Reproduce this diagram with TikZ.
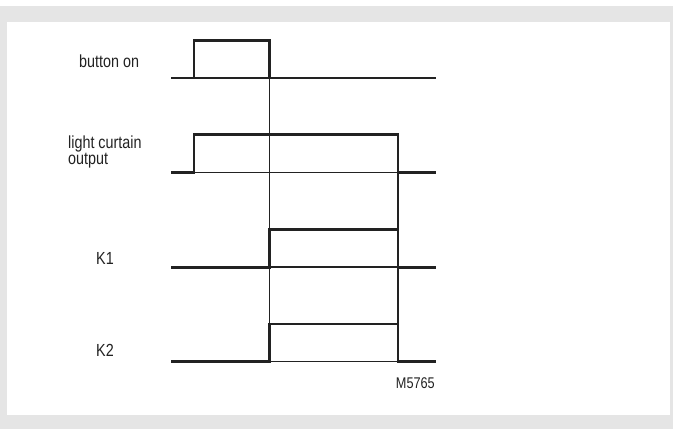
\documentclass[tikz,border=0pt]{standalone}
\usepackage{fontspec}
\setmainfont{Liberation Sans}[FakeStretch=0.82]
\definecolor{framegrey}{HTML}{E5E5E5}
\definecolor{ink}{HTML}{222222}
\begin{document}
\begin{tikzpicture}[x=1pt,y=-1pt,
  wave/.style={line width=2.8pt, draw=ink, line join=miter},
  guide/.style={line width=1.1pt, draw=ink},
  lbl/.style={font=\fontsize{17.5}{17}\selectfont, text=ink, inner sep=0pt},
  code/.style={font=\fontsize{15.5}{16}\selectfont, text=ink, inner sep=0pt}]
\useasboundingbox (0,0) rectangle (673,429);
\fill[white] (0,0) rectangle (673,429);
\fill[framegrey] (0,6) rectangle (673,429);
\fill[white] (7,22) rectangle (670,415);
% guide lines (thin)
\coordinate (t1top) at (269.3,40.7);
\coordinate (t1bot) at (269.3,361.7);
\coordinate (t2top) at (398,134.7);
\coordinate (t2bot) at (398,361.7);
\draw[guide] (t1top) -- (t1bot);
\draw[guide] (t2top) -- (t2bot);
\draw[guide] (194,78) -- (269.3,78);
\draw[guide] (194,172.3) -- (398,172.3);
\draw[guide] (269.3,267) -- (398,267);
\draw[guide] (269.3,361.7) -- (398,361.7);
% waveforms (thick)
\draw[wave] (171,78) -- (194,78) -- (194,40.7) -- (269.3,40.7) -- (269.3,78) -- (436,78);
\draw[wave] (171,172.3) -- (194,172.3) -- (194,134.7) -- (398,134.7) -- (398,172.3) -- (436,172.3);
\draw[wave] (171,267.5) -- (269.3,267.5) -- (269.3,229.3) -- (398,229.3) -- (398,267.5) -- (436,267.5);
\draw[wave] (171,361.7) -- (269.3,361.7) -- (269.3,324) -- (398,324) -- (398,361.7) -- (436,361.7);
% labels
\node[lbl, anchor=base west] (button) at (79,67) {button on};
\node[lbl, anchor=base west] (curtain) at (68,148) {light curtain};
\node[lbl, anchor=base west] (curtain2) at (68,164.5) {output};
\node[lbl, anchor=base west] (k1) at (96,264) {K1};
\node[lbl, anchor=base west] (k2) at (96,356) {K2};
\node[code, anchor=base east] (mcode) at (435,388) {M5765};
\end{tikzpicture}
\end{document}
